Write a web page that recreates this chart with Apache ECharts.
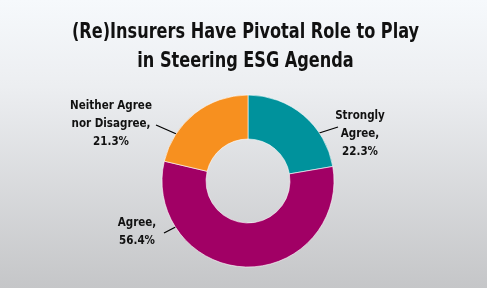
<!DOCTYPE html>
<html>
<head>
<meta charset="utf-8">
<script src="https://cdn.jsdelivr.net/npm/echarts@6/dist/echarts.min.js"></script>
<style>
html,body{margin:0;padding:0;}
#c{width:487px;height:288px;}
</style>
</head>
<body>
<div id="c"></div>
<script>
var titleLines = ['(Re)Insurers Have Pivotal Role to Play', 'in Steering ESG Agenda'];
var categories = ['Strongly\nAgree,', 'Agree,', 'Neither Agree\nnor Disagree,'];
var values = [22.3, 56.4, 21.3];
var colors = ['#00929C', '#A10065', '#F7901F'];

// label placement (style only)
var labelPos = [
  {x: 360, y: 134, line: [[313, 135], [338, 127]]},
  {x: 137, y: 232, line: [[193, 218], [164, 233]]},
  {x: 111, y: 124, line: [[181, 136], [156, 125]]}
];

var FONT = '"DejaVu Sans Condensed", "DejaVu Sans", sans-serif';
var chart = echarts.init(document.getElementById('c'));
var data = values.map(function (v, i) {
  return {name: categories[i], value: v, itemStyle: {color: colors[i]}};
});
chart.setOption({
  backgroundColor: {
    type: 'linear', x: 0, y: 0, x2: 0, y2: 1,
    colorStops: [
      {offset: 0, color: '#f6f9fc'},
      {offset: 0.3, color: '#eceef1'},
      {offset: 1, color: '#c5c6c8'}
    ]
  },
  graphic: [{
    type: 'text',
    x: 245.5,
    y: 18,
    scaleX: 0.815,
    style: {
      text: titleLines.join('\n'),
      x: 0, y: 0,
      align: 'center',
      verticalAlign: 'top',
      font: 'bold 22px ' + FONT,
      lineHeight: 29,
      fill: '#111'
    }
  }],
  series: [{
    type: 'pie',
    center: [248, 181],
    radius: [42, 86],
    startAngle: 90,
    clockwise: true,
    animation: false,
    itemStyle: {borderColor: '#ffffff', borderWidth: 0.6},
    label: {
      show: true,
      position: 'outside',
      formatter: function (p) { return p.name + '\n' + p.value.toFixed(1) + '%'; },
      fontFamily: FONT,
      fontWeight: 'bold',
      fontSize: 11.5,
      lineHeight: 18,
      color: '#111',
      align: 'center'
    },
    labelLine: {show: true, lineStyle: {color: '#000', width: 1.3}},
    labelLayout: function (params) {
      var p = labelPos[params.dataIndex];
      return {x: p.x, y: p.y, align: 'center', verticalAlign: 'middle', labelLinePoints: p.line};
    },
    data: data
  }]
});
</script>
</body>
</html>
